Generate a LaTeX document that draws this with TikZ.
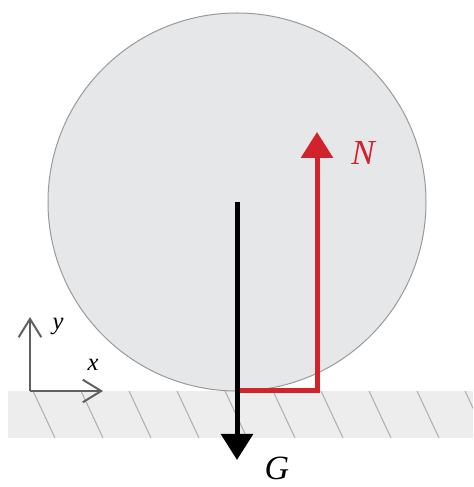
\documentclass[tikz,border=0pt]{standalone}
\usepackage{fontspec}
\setmainfont{Liberation Serif}
\definecolor{forcered}{HTML}{D2232A}
\definecolor{ballgray}{HTML}{E6E7E8}
\definecolor{edgegray}{HTML}{9A9A9A}
\definecolor{axisgray}{HTML}{606060}
\usetikzlibrary{arrows.meta}

\begin{document}
\begin{tikzpicture}[x=3mm, y=3mm,
    force/.style={line width=1.5mm, -{Triangle[width=9.4mm, length=7.8mm]}},
    axis/.style={line width=0.6mm, axisgray, -{Straight Barb[length=5.5mm, width=6.8mm]}}]
  \useasboundingbox (-23.7,-9.6) rectangle (23.6,39.1);
  % ground
  \fill[gray!14] (-22.9,-4.7) rectangle (23.6,0);
  \begin{scope}
    \clip (-22.9,-4.7) rectangle (23.6,0);
    \foreach \i in {0,...,9}
      \draw[edgegray!80, line width=0.3mm] (-20.4+4.8*\i,0) -- ++(2.2,-4.7);
  \end{scope}
  % ball
  \coordinate (O) at (0,18.9);
  \coordinate (C) at (0,0);
  \draw[edgegray, fill=ballgray, line width=0.3mm] (O) circle (18.9);
  % forces
  \coordinate (K) at (8,0);
  \coordinate (Ntip) at (8,25.9);
  \coordinate (Gtip) at (0,-6.9);
  \draw[force, forcered, line join=miter] (C) -- (K) -- (Ntip);
  \draw[force, black] (O) -- (Gtip);
  \node[forcered, font=\fontsize{30}{36}\selectfont\itshape] (N) at (12.6,23.8) {N};
  \node[inner sep=0pt, font=\fontsize{29}{34}\selectfont\itshape] (G) at (4.0,-7.7) {G};
  % axes
  \coordinate (A) at (-20.7,0);
  \coordinate (Ax) at (-13.4,0);
  \coordinate (Ay) at (-20.7,7.4);
  \draw[axis] (A) -- (Ax);
  \draw[axis] (A) -- (Ay);
  \node[font=\fontsize{21}{25}\selectfont\itshape] (xl) at (-14.4,2.6) {x};
  \node[font=\fontsize{21}{25}\selectfont\itshape] (yl) at (-17.9,6.4) {y};
\end{tikzpicture}
\end{document}
